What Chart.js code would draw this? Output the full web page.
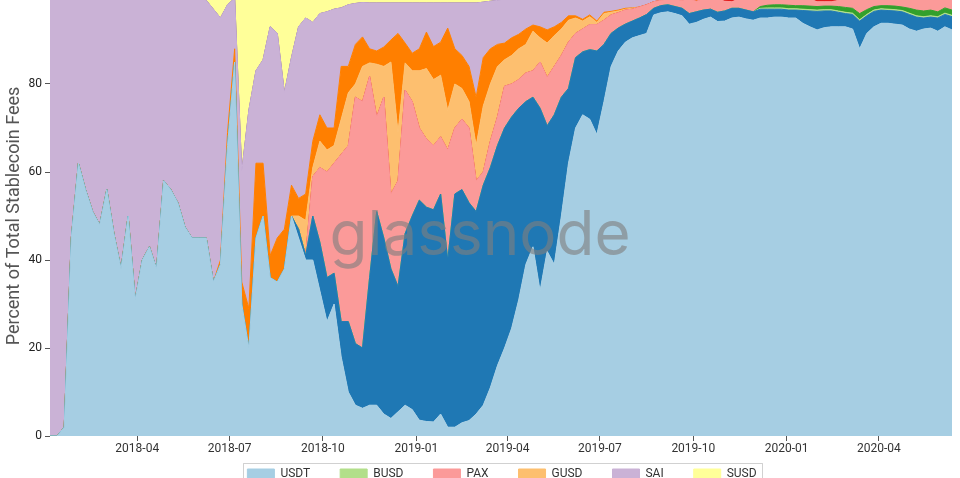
<!DOCTYPE html>
<html><head><meta charset="utf-8">
<script src="https://cdn.jsdelivr.net/npm/chart.js@4.4.1/dist/chart.umd.min.js"></script>
<style>
html,body{margin:0;padding:0;background:#fff;overflow:hidden;width:960px;height:478px;}
#wrap{position:absolute;left:0;top:-20px;width:960px;height:530px;}
</style></head><body>
<div id="wrap"><canvas id="c"></canvas></div>
<script>
// weekly samples
const startDate = '2018-01-05';
const stepDays = 7;
const tickLabels = ['2018-04','2018-07','2018-10','2019-01','2019-04','2019-07','2019-10','2020-01','2020-04'];
const legendNames = ['USDT','BUSD','PAX','GUSD','SAI','SUSD'];

const usdt = [0,0,2,45,62,56,51,48,56,46,
 38,50,31,40,43,38,58,56,53,47.5,
 45,45,45,35,39,66,85,30,20,45,
 50,36,35,38,50,45,40,40,33,26,
 30,18,10,7,6.3,7,7,5,4,5.5,
 7,6,3.6,3.3,3.2,5,2,2,3,3.5,
 5,7,11,16,20,24.5,31,39,43,33,
 42,39,50,62,70,73,72,68.5,76,84,
 87.5,89.5,90.5,91,91.5,95.7,96.2,96.4,96,95.5,
 93.6,94,94.7,95.2,94.2,94.3,95,95.2,94.8,94.5,
 95,95,95.2,95.2,95,95,93.8,93,92.3,92.8,
 93,93,93,92.5,88,91.5,93,93.8,93.8,93.6,
 93.4,92.5,92,92.5,92.7,92,93,92.3];

const usdc = [0,0,0,0,0,0,0,0,0,0,
 0,0,0,0,0,0,0,0,0,0,
 0,0,0,0,0,0,0,0,0,0,
 0,0,0,0,0,2,1,10,11,10,
 7,8,16,14,13.7,29,44,40,34,28.5,
 39,44,50,48.7,48.2,50,38,53,53,49.5,
 46,50,50,50,50,48,43.5,37,34,41.5,
 28.5,34,27,17,16,14.3,15.8,19,13,7.5,
 5.2,4.1,3.8,4,4.3,1.5,1.6,1.6,1.6,1.7,
 2.4,2.4,2.1,1.8,2.1,2.3,2.2,2,2,1.9,
 2,2,1.8,1.8,1.8,1.8,2.9,3.6,4.2,3.8,
 3.6,3.3,3,3.3,6.3,4,3.5,3,2.9,3,
 3,3.3,3.2,2.5,2.5,3,2.8,3];

const busd = [0,0,0,0,0,0,0,0,0,0,
 0,0,0,0,0,0,0,0,0,0,
 0,0,0,0,0,0,0,0,0,0,
 0,0,0,0,0,0,0,0,0,0,
 0,0,0,0,0,0,0,0,0,0,
 0,0,0,0,0,0,0,0,0,0,
 0,0,0,0,0,0,0,0,0,0,
 0,0,0,0,0,0,0,0,0,0,
 0,0,0,0,0,0,0,0,0,0,
 0,0,0,0,0,0,0,0,0,0,
 0.2,0.3,0.3,0.3,0.3,0.3,0.3,0.3,0.3,0.3,
 0.3,0.3,0.3,0.3,0.3,0.3,0.3,0.3,0.3,0.3,
 0.3,0.3,0.3,0.3,0.3,0.3,0.3,0.3];

const husd = [0,0,0,0,0,0,0,0,0,0,
 0,0,0,0,0,0,0,0,0,0,
 0,0,0,0,0,0,0,0,0,0,
 0,0,0,0,0,0,0,0,0,0,
 0,0,0,0,0,0,0,0,0,0,
 0,0,0,0,0,0,0,0,0,0,
 0,0,0,0,0,0,0,0,0,0,
 0,0,0,0,0,0,0,0,0,0,
 0,0,0,0,0,0,0,0,0,0,
 0,0,0,0,0,0,0,0,0,0,
 0.4,0.6,0.7,0.7,0.8,0.7,0.8,0.8,0.8,0.8,
 0.8,1.0,1.1,1.1,1.4,1.1,0.8,0.7,0.8,0.8,
 0.8,1.1,1.3,1.3,1.3,1.1,1.2,1.2];

const pax = [0,0,0,0,0,0,0,0,0,0,
 0,0,0,0,0,0,0,0,0,0,
 0,0,0,0,0,0,0,0,0,0,
 0,0,0,0,0,0,0,9,17,24,
 25,38,40,56,56,45.7,21.5,32,17,24,
 32.6,26,16.4,15.5,14.6,13,25,15,16,17,
 7,3,6,6.5,9.5,7.5,6.5,6.5,6,10.5,
 11,11,9.5,10.5,5.5,5.2,5.7,6,5.5,4.2,
 3.5,3.2,2.7,2.5,2.2,1.5,1.2,1.2,1.6,1.8,
 3.3,2.4,2.5,2.3,3,2.2,1.5,2.1,2.5,2.9,
 1.7,1.4,1.3,1.3,1.4,1.5,1.5,1.6,1.1,1.0,
 1.0,1.4,1.9,2.1,3.3,2.4,1.7,1.5,1.5,1.6,
 1.8,2.1,2.5,2.7,2.5,2.9,2,2.5];

const eurs = [0,0,0,0,0,0,0,0,0,0,
 0,0,0,0,0,0,0,0,0,0,
 0,0,0,0,0,0,0,0,0,0,
 0,0,0,0,0,0,0,0,0,0,
 0,0,0,0,0,0,0,0,0,0,
 0,0,0,0,0,0,0,0,0,0,
 0,0,0,0,0,0,0,0,0,0,
 0,0,0,0,0,0,0,0,0,0,
 0,0,0,0,0,0,0,0,0,0,
 0,0,0,0,0,0.5,0.6,0,0,0,
 0,0,0,0,0,0,0,0,0.6,0.6,
 0.6,0.3,0,0,0,0,0,0,0,0,
 0,0,0,0,0,0,0,0];

const gusd = [0,0,0,0,0,0,0,0,0,0,
 0,0,0,0,0,0,0,0,0,0,
 0,0,0,0,0,0,0,0,0,0,
 0,0,0,0,0,3,8,2,6,5,
 4,8,12,3,8,3.1,12,7,30,11,
 6.2,7,13,16,15,14,9,10,7,6,
 8,15,13,11.5,6,6.5,7,6.5,9,5.5,
 7.8,7,6,5,3.5,1.8,1.8,0.5,1.5,0.6,
 0.4,0.2,0.2,0,0,0,0,0,0,0,
 0,0,0,0,0,0,0,0,0,0,
 0,0,0,0,0,0,0,0,0,0,
 0,0,0,0,0,0,0,0,0,0,
 0,0,0,0,0,0,0,0];

const tusd = [0,0,0,0,0,0,0,0,0,0,
 0,0,0,0,0,0,0,0,0,0,
 0,0,0,0,1,3,3,5,9,17,
 12,5,10,9,7,4,6,6,6,5,
 4,12,6,9,6.7,3.2,3,4.4,5,22.5,
 4.5,4,5,8.3,7.5,7.5,18.7,8,7.5,8,
 11,11,8,5,3.8,4,3.3,3.5,1.4,2.5,
 3,2,1.5,1,0.5,0.4,0.4,0.3,0.3,0.2,
 0.2,0.2,0.1,0,0,0,0,0,0,0,
 0,0.5,0,0,0,0,0,0,0,0,
 0,0,0,0,0,0,0,0,0,0,
 0,0,0,0,0,0,0,0,0,0,
 0,0,0,0,0,0,0,0];

const sai = [100,100,98,55,38,44,49,52,44,54,
 62,50,69,60,57,62,42,44,47,52.5,
 55,55,54,62,55,29,11.5,25,45,21,
 23.5,52,46.5,31,29,39,40,27,23,26.4,
 27,13.3,14,9.3,7.8,10.4,10.9,10,8.4,6.9,
 9.1,11.4,10.4,6.6,9.9,8.9,5.7,10.4,11.9,14.4,
 21.4,12.6,10.8,10,9.9,8.9,8.2,7,6.1,6.5,
 7.3,6.6,5.6,4.2,4.2,5.1,4.1,5.5,3.7,3.5,
 3.2,2.8,2.7,2.5,2,1.3,1,0.8,0.8,1,
 0.7,0.7,0.7,0.7,0.7,0.7,0.7,0.7,0.7,0.7,
 0.3,0.3,0.3,0.3,0.3,0.3,0.3,0.3,0.3,0.3,
 0.3,0.3,0.3,0.3,0.3,0.3,0.3,0.3,0.3,0.3,
 0.3,0.3,0.3,0.3,0.3,0.3,0.3,0.3];

const dai = [0,0,0,0,0,0,0,0,0,0,
 0,0,0,0,0,0,0,0,0,0,
 0,0,0,0,0,0,0,0,0,0,
 0,0,0,0,0,0,0,0,0,0,
 0,0,0,0,0,0,0,0,0,0,
 0,0,0,0,0,0,0,0,0,0,
 0,0,0,0,0,0,0,0,0,0,
 0,0,0,0,0,0,0,0,0,0,
 0,0,0,0,0,0,0,0,0,0,
 0,0,0,0,0,0,0,0,0,0,
 0.4,0.4,0.4,0.4,0.4,0.4,0.4,0.4,0.4,0.4,
 0.4,0.4,0.4,0.4,0.4,0.4,0.4,0.4,0.4,0.4,
 0.4,0.4,0.4,0.4,0.4,0.4,0.4,0.4];

const susd = [0,0,0,0,0,0,0,0,0,0,
 0,0,0,0,0,0,0,0,0,0,
 0,0,1,3,5,2,0.5,40,26,17,
 14.5,7,8.5,22,14,7,5,6,4,3.6,
 3,2.7,2,1.7,1.5,1.6,1.6,1.6,1.6,1.6,
 1.6,1.6,1.6,1.6,1.6,1.6,1.6,1.6,1.6,1.6,
 1.6,1.4,1.2,1.0,0.8,0.6,0.5,0.5,0.5,0.5,
 0.4,0.4,0.4,0.3,0.3,0.2,0.2,0.2,0,0,
 0,0,0,0,0,0,0,0,0,0,
 0,0,0,0,0,0,0,0,0,0,
 0,0,0,0,0,0,0,0,0,0,
 0,0,0,0,0,0,0,0,0,0,
 0,0,0,0,0,0,0,0];

const seriesNames = ['USDT','USDC','BUSD','HUSD','PAX','EURS','GUSD','TUSD','SAI','DAI','SUSD'];
const seriesValues = [usdt,usdc,busd,husd,pax,eurs,gusd,tusd,sai,dai,susd];
const seriesColors = ['#a6cee3','#1f78b4','#b2df8a','#33a02c','#fb9a99','#e31a1c','#fdbf6f','#ff7f00','#cab2d6','#6a3d9a','#ffff99'];

const DAY = 86400000;
const t0 = Date.parse(startDate + 'T00:00:00Z');
const xDays = usdt.map((_, i) => i * stepDays);
const tickValues = tickLabels.map(s => Math.round((Date.parse(s + '-01T00:00:00Z') - t0) / DAY));

const datasets = seriesNames.map((name, i) => ({
  label: name,
  data: seriesValues[i].map((v, j) => ({x: xDays[j], y: v})),
  backgroundColor: seriesColors[i],
  borderColor: seriesColors[i],
  borderWidth: 1,
  pointRadius: 0,
  tension: 0,
  fill: i === 0 ? 'origin' : '-1'
}));

const watermark = {
  id: 'watermark',
  afterDatasetsDraw(chart) {
    const ctx = chart.ctx;
    ctx.save();
    ctx.font = '400 62px Inter';
    ctx.fillStyle = 'rgba(128,128,128,0.62)';
    ctx.textAlign = 'center';
    ctx.textBaseline = 'alphabetic';
    ctx.fillText('glassnode', chart.width / 2, 275);
    ctx.restore();
  }
};

// pull the legend up just under the axis labels
const legendPlace = {
  id: 'legendPlace',
  afterLayout(chart) {
    const lg = chart.legend;
    if (!lg) return;
    const h = lg.height;
    lg.top = chart.chartArea.bottom + 2;
    lg.bottom = lg.top + h;
    lg.left += 1;
    lg.right += 1;
  }
};

const legendFrame = {
  id: 'legendFrame',
  afterDraw(chart) {
    const hb = chart.legend && chart.legend.legendHitBoxes;
    if (!hb || !hb.length) return;
    const last = hb[hb.length - 1];
    const l = Math.round(hb[0].left - 4) + 0.5;
    const r = Math.round(last.left + last.width + 5) + 0.5;
    const t = Math.round(hb[0].top - 5) + 0.5;
    const ctx = chart.ctx;
    ctx.save();
    ctx.strokeStyle = 'rgba(0,0,0,0.18)';
    ctx.lineWidth = 1;
    ctx.beginPath();
    ctx.moveTo(l, t + 40); ctx.lineTo(l, t); ctx.lineTo(r, t); ctx.lineTo(r, t + 40);
    ctx.stroke();
    ctx.restore();
  }
};

new Chart(document.getElementById('c'), {
  type: 'line',
  data: {datasets},
  plugins: [watermark, legendPlace, legendFrame],
  options: {
    responsive: true,
    maintainAspectRatio: false,
    animation: false,
    layout: {padding: {top: 16, right: 8, left: 0, bottom: 0}},
    plugins: {
      legend: {
        position: 'bottom',
        fullSize: false,
        labels: {
          boxWidth: 27, boxHeight: 10, padding: 30, color: '#333',
          font: {family: 'Roboto', size: 12},
          filter: item => legendNames.includes(item.text)
        }
      },
      tooltip: {enabled: false}
    },
    scales: {
      x: {
        type: 'linear',
        min: 0,
        max: xDays[xDays.length - 1],
        border: {display: false},
        grid: {drawOnChartArea: false, drawTicks: true, tickLength: 5, color: '#555'},
        ticks: {
          color: '#333', font: {family: 'Roboto', size: 12}, padding: 1,
          autoSkip: false, maxRotation: 0,
          callback: v => { const i = tickValues.indexOf(v); return i >= 0 ? tickLabels[i] : ''; }
        },
        afterBuildTicks: sc => { sc.ticks = tickValues.map(v => ({value: v})); },
        afterFit: sc => { sc.height = 22; }
      },
      y: {
        stacked: true,
        min: 0, max: 100,
        border: {display: false},
        grid: {drawOnChartArea: false, drawTicks: true, tickLength: 5, color: '#555'},
        ticks: {stepSize: 20, color: '#222', font: {family: 'Roboto', size: 12}, padding: 3},
        title: {display: true, text: 'Percent of Total Stablecoin Fees', color: '#555', font: {family: 'Roboto', size: 18}},
        afterFit: sc => { sc.width = 50; }
      }
    }
  }
});
</script>
</body></html>
